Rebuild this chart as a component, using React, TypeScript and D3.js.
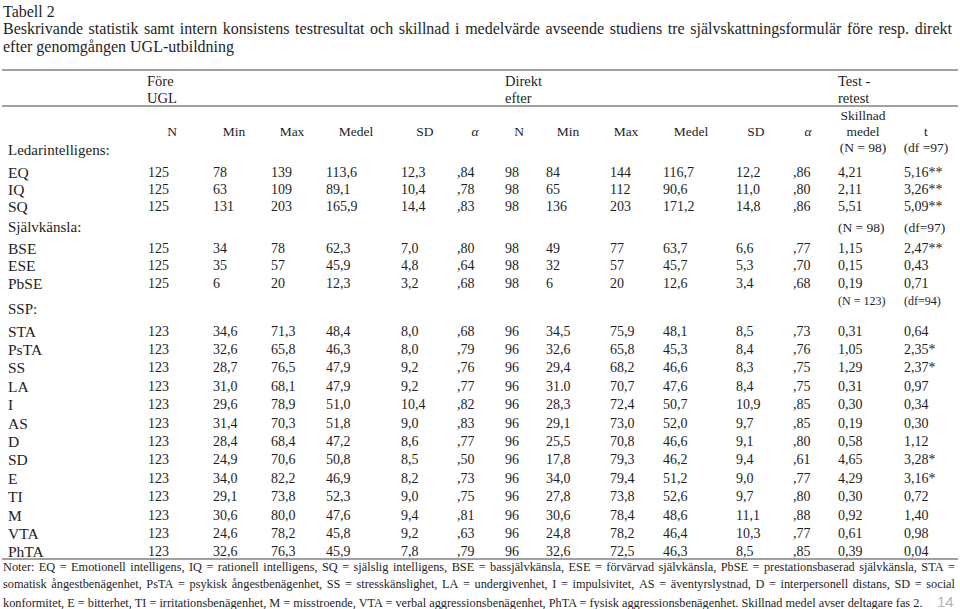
import React, { useRef, useEffect } from "react";
import * as d3 from "d3";

const titleLines = [
  "Tabell 2",
  "Beskrivande statistik samt intern konsistens testresultat och skillnad i medelvärde avseende studiens tre självskattningsformulär före resp. direkt",
  "efter genomgången UGL-utbildning",
];

const periodLabels = [["Före", "UGL"], ["Direkt", "efter"], ["Test -", "retest"]];
const statHeaders = ["N", "Min", "Max", "Medel", "SD", "α", "N", "Min", "Max", "Medel", "SD", "α"];
const diffHeader = ["Skillnad", "medel", "(N = 98)"];
const tHeader = ["t", "(df =97)"];

const groupLabels = ["Ledarintelligens:", "Självkänsla:", "SSP:"];
const groupNotes = [[], ["(N = 98)", "(df=97)"], ["(N = 123)", "(df=94)"]];

const rowLabels = ["EQ", "IQ", "SQ", "BSE", "ESE", "PbSE", "STA", "PsTA", "SS", "LA", "I", "AS", "D", "SD", "E", "TI", "M", "VTA", "PhTA"];
const rowGroup = [0, 0, 0, 1, 1, 1, 2, 2, 2, 2, 2, 2, 2, 2, 2, 2, 2, 2, 2];

const nBefore = ["125", "125", "125", "125", "125", "125", "123", "123", "123", "123", "123", "123", "123", "123", "123", "123", "123", "123", "123"];
const minBefore = ["78", "63", "131", "34", "35", "6", "34,6", "32,6", "28,7", "31,0", "29,6", "31,4", "28,4", "24,9", "34,0", "29,1", "30,6", "24,6", "32,6"];
const maxBefore = ["139", "109", "203", "78", "57", "20", "71,3", "65,8", "76,5", "68,1", "78,9", "70,3", "68,4", "70,6", "82,2", "73,8", "80,0", "78,2", "76,3"];
const meanBefore = ["113,6", "89,1", "165,9", "62,3", "45,9", "12,3", "48,4", "46,3", "47,9", "47,9", "51,0", "51,8", "47,2", "50,8", "46,9", "52,3", "47,6", "45,8", "45,9"];
const sdBefore = ["12,3", "10,4", "14,4", "7,0", "4,8", "3,2", "8,0", "8,0", "9,2", "9,2", "10,4", "9,0", "8,6", "8,5", "8,2", "9,0", "9,4", "9,2", "7,8"];
const alphaBefore = [",84", ",78", ",83", ",80", ",64", ",68", ",68", ",79", ",76", ",77", ",82", ",83", ",77", ",50", ",73", ",75", ",81", ",63", ",79"];

const nAfter = ["98", "98", "98", "98", "98", "98", "96", "96", "96", "96", "96", "96", "96", "96", "96", "96", "96", "96", "96"];
const minAfter = ["84", "65", "136", "49", "32", "6", "34,5", "32,6", "29,4", "31.0", "28,3", "29,1", "25,5", "17,8", "34,0", "27,8", "30,6", "24,8", "32,6"];
const maxAfter = ["144", "112", "203", "77", "57", "20", "75,9", "65,8", "68,2", "70,7", "72,4", "73,0", "70,8", "79,3", "79,4", "73,8", "78,4", "78,2", "72,5"];
const meanAfter = ["116,7", "90,6", "171,2", "63,7", "45,7", "12,6", "48,1", "45,3", "46,6", "47,6", "50,7", "52,0", "46,6", "46,2", "51,2", "52,6", "48,6", "46,4", "46,3"];
const sdAfter = ["12,2", "11,0", "14,8", "6,6", "5,3", "3,4", "8,5", "8,4", "8,3", "8,4", "10,9", "9,7", "9,1", "9,4", "9,0", "9,7", "11,1", "10,3", "8,5"];
const alphaAfter = [",86", ",80", ",86", ",77", ",70", ",68", ",73", ",76", ",75", ",75", ",85", ",85", ",80", ",61", ",77", ",80", ",88", ",77", ",85"];

const diffMean = ["4,21", "2,11", "5,51", "1,15", "0,15", "0,19", "0,31", "1,05", "1,29", "0,31", "0,30", "0,19", "0,58", "4,65", "4,29", "0,30", "0,92", "0,61", "0,39"];
const tValue = ["5,16**", "3,26**", "5,09**", "2,47**", "0,43", "0,71", "0,64", "2,35*", "2,37*", "0,97", "0,34", "0,30", "1,12", "3,28*", "3,16*", "0,72", "1,40", "0,98", "0,04"];

const noteLines = [
  "Noter: EQ = Emotionell intelligens, IQ = rationell intelligens, SQ = själslig intelligens, BSE = bassjälvkänsla, ESE = förvärvad självkänsla, PbSE = prestationsbaserad självkänsla, STA =",
  "somatisk ångestbenägenhet, PsTA = psykisk ångestbenägenhet, SS = stresskänslighet, LA = undergivenhet, I = impulsivitet, AS = äventyrslystnad, D = interpersonell distans, SD = social",
  "konformitet, E = bitterhet, TI = irritationsbenägenhet, M = misstroende, VTA = verbal aggressionsbenägenhet, PhTA = fysisk aggressionsbenägenhet. Skillnad medel avser deltagare fas 2.",
];
const pageNumber = "14";

const columns = [nBefore, minBefore, maxBefore, meanBefore, sdBefore, alphaBefore, nAfter, minAfter, maxAfter, meanAfter, sdAfter, alphaAfter, diffMean, tValue];

export default function App() {
  const ref = useRef<SVGSVGElement>(null);

  useEffect(() => {
    const width = 960, height = 609;
    const font = "'Liberation Serif', 'Times New Roman', serif";
    const ink = "#1e1e1e";

    const svg = d3.select(ref.current);
    svg.selectAll("*").remove();
    svg.attr("width", width).attr("height", height);

    const txt = (g: any, s: string, x: number, y: number, size: number, anchor = "start") =>
      g.append("text")
        .attr("x", x)
        .attr("y", y)
        .attr("dominant-baseline", "central")
        .attr("text-anchor", anchor)
        .style("font-family", font)
        .style("font-size", `${size}px`)
        .style("fill", ink)
        .text(s);

    // justify a line word by word between x0 and x1
    const justify = (s: string, x0: number, x1: number, y: number, size: number) => {
      const g = svg.append("g");
      const words = s.split(" ");
      const nodes = words.map(w => txt(g, w, 0, y, size));
      const widths = nodes.map((n: any) => (n.node() as SVGTextElement).getComputedTextLength());
      const gap = (x1 - x0 - d3.sum(widths)) / (words.length - 1);
      let x = x0;
      nodes.forEach((n: any, i: number) => { n.attr("x", x); x += widths[i] + gap; });
    };

    // title
    txt(svg, titleLines[0], 3, 11, 16);
    justify(titleLines[1], 3, 952, 28, 16);
    txt(svg, titleLines[2], 3, 46, 16);

    // rules
    const rule = (y: number) =>
      svg.append("line").attr("x1", 2).attr("x2", 958).attr("y1", y).attr("y2", y)
        .attr("stroke", "#444").attr("stroke-width", 1.2);
    rule(70);
    rule(106);
    rule(559);

    // columns: left edge of each value column
    const colX = d3.scaleOrdinal<number, number>()
      .domain(d3.range(columns.length))
      .range([148, 213, 271, 326, 401, 457, 505, 546, 610, 663, 736, 793, 838, 904]);

    // header
    const periodX = d3.scaleOrdinal<number, number>().domain([0, 1, 2]).range([147, 505, 838]);
    periodLabels.forEach((p, i) => {
      txt(svg, p[0], periodX(i), 81, 14.5);
      txt(svg, p[1], periodX(i), 98, 14.5);
    });
    const headX = d3.scaleOrdinal<number, number>()
      .domain(d3.range(statHeaders.length))
      .range([172, 234, 292, 356, 425, 475, 519, 568, 626, 691, 756, 808]);
    statHeaders.forEach((h, i) => {
      const t = txt(svg, h, headX(i), 131, 13.5, "middle");
      if (h === "α") t.style("font-style", "italic");
    });
    diffHeader.forEach((h, i) => txt(svg, h, 863, 115 + i * 16, 13.5, "middle"));
    tHeader.forEach((h, i) => txt(svg, h, 926, 131 + i * 16, 13.5, "middle"));

    // rows: vertical layout per group
    const groupY = [150, 227, 309];
    const firstRowGap = [22, 21, 22];
    const rowStep = [17, 17.5, 18.4];
    const rowY: number[] = [];
    groupLabels.forEach((lab, gi) => {
      const idx = d3.range(rowLabels.length).filter(i => rowGroup[i] === gi);
      const y = d3.scaleLinear()
        .domain([0, 1])
        .range([groupY[gi] + firstRowGap[gi], groupY[gi] + firstRowGap[gi] + rowStep[gi]]);
      idx.forEach((r, k) => { rowY[r] = y(k); });
      txt(svg, lab, 8, groupY[gi], 15);
      const notes = groupNotes[gi];
      if (notes.length) {
        const ny = gi === 2 ? groupY[gi] - 8 : groupY[gi];
        txt(svg, notes[0], colX(12), ny, gi === 2 ? 12 : 13.5);
        txt(svg, notes[1], colX(13), ny, gi === 2 ? 12 : 13.5);
      }
    });

    rowLabels.forEach((lab, r) => {
      txt(svg, lab, 8, rowY[r], 15.5);
      columns.forEach((col, c) => txt(svg, col[r], colX(c), rowY[r], 14));
    });

    // notes
    justify(noteLines[0], 3, 955, 567, 12.3);
    justify(noteLines[1], 3, 955, 584, 12.3);
    txt(svg, noteLines[2], 3, 603, 12.3);
    txt(svg, pageNumber, 937, 601, 15)
      .style("font-family", "'Liberation Sans', Arial, sans-serif")
      .style("fill", "#b4b4b4");
  }, []);

  return (
    <div style={{ position: "absolute", left: 0, top: 0 }}>
      <svg ref={ref} style={{ display: "block", background: "#fff" }} />
    </div>
  );
}
